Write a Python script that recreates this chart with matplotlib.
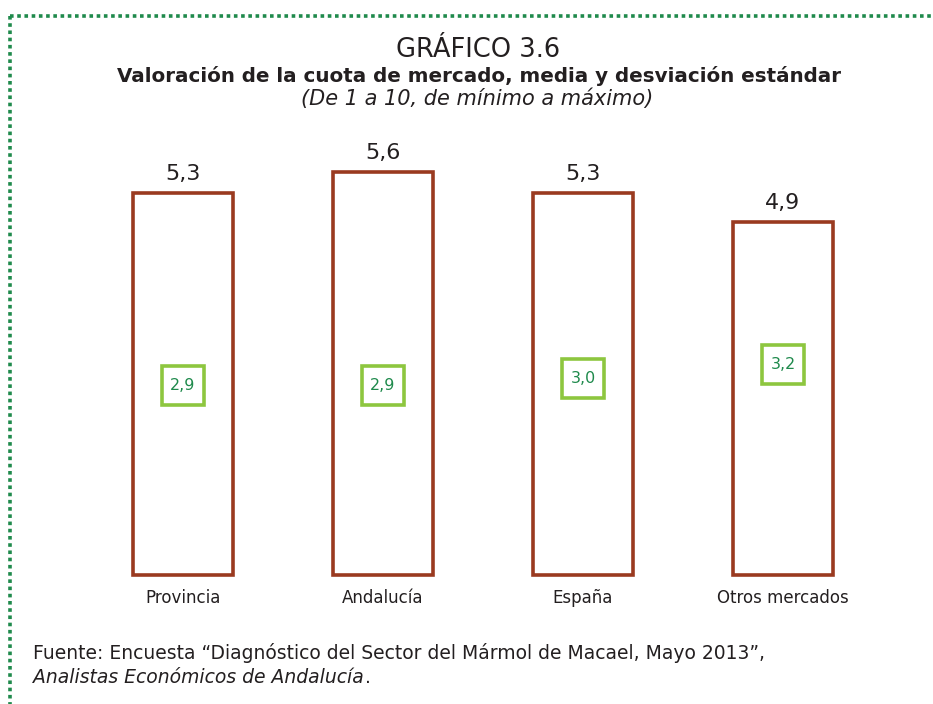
import matplotlib
matplotlib.use('Agg')
import matplotlib.pyplot as plt
from matplotlib.lines import Line2D
from matplotlib.patches import Rectangle

plt.rcParams['font.family'] = ['DejaVu Sans']

# datos del gráfico
categorias = ['Provincia', 'Andalucía', 'España', 'Otros mercados']
media = [5.3, 5.6, 5.3, 4.9]
desviacion = [2.9, 2.9, 3.0, 3.2]

W, H = 933, 704
TXT = '#231f20'
fig = plt.figure(figsize=(W / 100, H / 100), dpi=100)
renderer = fig.canvas.get_renderer()

def px(x, y):
    return x / W, 1 - y / H

def ajustar(t, ancho):
    # escala el tamaño de letra para que el texto ocupe 'ancho' píxeles
    w = t.get_window_extent(renderer).width
    t.set_fontsize(t.get_fontsize() * ancho / w)
    return t

# borde punteado verde
for xs, ys in [((10, 933), (16, 16)), ((10, 10), (16, 704))]:
    (x0, y0), (x1, y1) = px(xs[0], ys[0]), px(xs[1], ys[1])
    fig.add_artist(Line2D([x0, x1], [y0, y1], transform=fig.transFigure,
                          color='#1f8a4c', lw=2.6, dashes=(1, 1),
                          solid_capstyle='butt', dash_capstyle='butt'))

# títulos
ajustar(fig.text(*px(478, 57), 'GRÁFICO 3.6', ha='center', va='baseline',
                 fontsize=17, color=TXT), 165)
ajustar(fig.text(*px(479, 82), 'Valoración de la cuota de mercado, media y desviación estándar',
                 ha='center', va='baseline', fontsize=13, fontweight='bold', color=TXT), 718)
t_it = fig.text(*px(477, 105), '(De 1 a 10, de mínimo a máximo)', ha='center', va='baseline',
                fontsize=13, style='italic', color=TXT)
ajustar(t_it, 375)
t_it.set_fontsize(min(t_it.get_fontsize(), 15))

# ejes: base en y=575, 72 px por unidad
escala = 72.0
ytop = 6.0
ax = fig.add_axes([83 / W, (H - 575) / H, 800 / W, ytop * escala / H])
ax.set_xlim(-0.5, 3.5)
ax.set_ylim(0, ytop)
ax.axis('off')

x = list(range(len(categorias)))
ax.bar(x, media, width=0.5, facecolor='white', edgecolor='#9a3a20',
       linewidth=2.6, clip_on=False)

for i, (m, d) in enumerate(zip(media, desviacion)):
    ax.text(i, m + 13 / escala, f'{m:.1f}'.replace('.', ','), ha='center', va='baseline',
            fontsize=16, color=TXT)
    # caja de la desviación estándar, con el borde superior en el valor
    bw = 0.21
    bh = 39 / escala
    ax.add_patch(Rectangle((i - bw / 2, d - bh), bw, bh, facecolor='white',
                           edgecolor='#8dc63f', linewidth=2.6, zorder=3))
    ax.text(i, d - bh / 2, f'{d:.1f}'.replace('.', ','), ha='center', va='center',
            fontsize=11.5, color='#1f8a4c', zorder=4)
    ax.text(i, -28 / escala, categorias[i], ha='center', va='baseline',
            fontsize=12, color=TXT, clip_on=False)

# fuente
fs = 13.5
fig.text(*px(33, 659), 'Fuente: Encuesta “Diagnóstico del Sector del Mármol de Macael, Mayo 2013”,',
         ha='left', va='baseline', fontsize=fs, color=TXT)
t = fig.text(*px(33, 683), 'Analistas Económicos de Andalucía', ha='left', va='baseline',
             fontsize=fs, style='italic', color=TXT)
bb = t.get_window_extent(renderer)
fig.text(bb.x1 / W + 1 / W, 1 - 683 / H, '.', ha='left', va='baseline',
         fontsize=fs, color=TXT)

fig.savefig('out.png', dpi=100)
